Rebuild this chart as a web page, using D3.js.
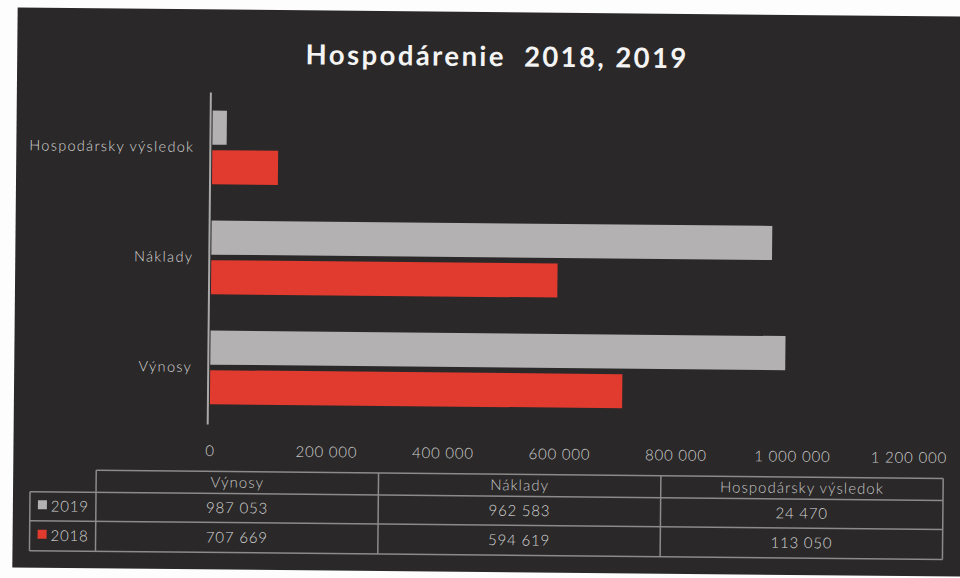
<!DOCTYPE html>
<html>
<head>
<meta charset="utf-8">
<script src="https://cdn.jsdelivr.net/npm/d3@7/dist/d3.min.js"></script>
<style>
  html, body { margin: 0; padding: 0; background: #fdfdfd; }
  svg { display: block; }
</style>
</head>
<body>
<svg id="chart" width="960" height="578"></svg>
<script>
// data
const categories = ["Výnosy", "Náklady", "Hospodársky výsledok"];
const years = ["2019", "2018"];
const values2019 = [987053, 962583, 24470];
const values2018 = [707669, 594619, 113050];
const xTicks = [0, 200000, 400000, 600000, 800000, 1000000, 1200000];
const title = "Hospodárenie  2018, 2019";

const seriesColor = { "2019": "#b4b1b2", "2018": "#e13a2f" };
const seriesValues = { "2019": values2019, "2018": values2018 };

const sk = d3.formatLocale({ decimal: ",", thousands: "\u00a0", grouping: [3], currency: ["", ""] });
const fmt = sk.format(",");

const svg = d3.select("#chart");
const font = "Lato, 'Open Sans', sans-serif";

// the scan is slightly tilted
const g = svg.append("g").attr("transform", "rotate(0.55 480 289)");

g.append("rect")
  .attr("x", 15).attr("y", 12).attr("width", 980).attr("height", 560)
  .attr("fill", "#2a2828");

g.append("text")
  .attr("x", 495).attr("y", 66)
  .attr("text-anchor", "middle")
  .attr("fill", "#f4f4f4")
  .attr("font-family", font)
  .attr("font-weight", 700)
  .attr("font-size", 27.5)
  .attr("letter-spacing", 2.4)
  .style("white-space", "pre")
  .text(title);

const x = d3.scaleLinear().domain([0, 1200000]).range([211, 910]);

const y = d3.scaleBand()
  .domain(categories.slice().reverse())
  .range([95, 425])
  .paddingInner(0.33)
  .paddingOuter(0.165);

const ySub = d3.scaleBand().domain(years).range([0, y.bandwidth()]).paddingInner(0.14);

// bars
const groups = g.append("g").selectAll("g").data(categories).join("g")
  .attr("transform", d => `translate(0,${y(d)})`);

groups.selectAll("rect")
  .data((d, i) => years.map(yr => ({ yr, v: seriesValues[yr][i] })))
  .join("rect")
  .attr("x", x(0))
  .attr("y", d => ySub(d.yr))
  .attr("height", ySub.bandwidth())
  .attr("width", d => x(d.v) - x(0))
  .attr("fill", d => seriesColor[d.yr]);

// y axis
const yAxis = g.append("g")
  .attr("transform", `translate(${x(0) - 2},0)`)
  .call(d3.axisLeft(y).tickSize(0).tickPadding(16));
yAxis.select(".domain").attr("stroke", "#a9a9a9").attr("stroke-width", 2)
  .attr("d", "M0,95V427");
yAxis.selectAll("text")
  .attr("fill", "#d6d6d6")
  .attr("font-family", font)
  .attr("font-weight", 300)
  .attr("font-size", 14.5)
  .attr("letter-spacing", 1.3);

// x axis (labels only)
const xAxis = g.append("g")
  .attr("transform", "translate(0,438)")
  .call(d3.axisBottom(x).tickValues(xTicks).tickFormat(fmt).tickSize(0).tickPadding(10));
xAxis.select(".domain").remove();
xAxis.selectAll("text")
  .attr("fill", "#d0d0d0")
  .attr("font-family", font)
  .attr("font-weight", 300)
  .attr("font-size", 15)
  .attr("letter-spacing", 0.8);

// data table
const col = d3.scaleBand().domain(categories).range([98, 945]);
const rowTop = { header: 474, "2019": 496, "2018": 525 };
const tableBottom = 555;
const legendLeft = 32;
const lineColor = "#8c8a8a";

const table = g.append("g");
const lines = [
  [col.range()[0], rowTop.header, col.range()[1], rowTop.header],
  [legendLeft, rowTop["2019"], col.range()[1], rowTop["2019"]],
  [legendLeft, rowTop["2018"], col.range()[1], rowTop["2018"]],
  [legendLeft, tableBottom, col.range()[1], tableBottom],
  [legendLeft, rowTop["2019"], legendLeft, tableBottom],
  ...categories.map(c => [col(c), rowTop.header, col(c), tableBottom]),
  [col.range()[1], rowTop.header, col.range()[1], tableBottom]
];
table.selectAll("line").data(lines).join("line")
  .attr("x1", d => d[0]).attr("y1", d => d[1])
  .attr("x2", d => d[2]).attr("y2", d => d[3])
  .attr("stroke", lineColor).attr("stroke-width", 1.5);

table.selectAll("text.head").data(categories).join("text")
  .attr("class", "head")
  .attr("x", d => col(d) + col.bandwidth() / 2)
  .attr("y", rowTop.header + 16)
  .attr("text-anchor", "middle")
  .attr("fill", "#c4c4c4")
  .attr("font-family", font)
  .attr("font-weight", 300)
  .attr("font-size", 15)
  .attr("letter-spacing", 1)
  .text(d => d);

years.forEach(yr => {
  const mid = (rowTop[yr] + (yr === "2019" ? rowTop["2018"] : tableBottom)) / 2;
  table.append("rect")
    .attr("x", legendLeft + 8).attr("y", mid - 6)
    .attr("width", 9).attr("height", 9)
    .attr("fill", seriesColor[yr]);
  table.append("text")
    .attr("x", legendLeft + 21).attr("y", mid + 5)
    .attr("fill", "#d6d6d6")
    .attr("font-family", font)
    .attr("font-weight", 300)
    .attr("font-size", 15)
    .attr("letter-spacing", 0.8)
    .text(yr);
  table.selectAll(`text.v${yr}`).data(categories).join("text")
    .attr("class", `v${yr}`)
    .attr("x", d => col(d) + col.bandwidth() / 2)
    .attr("y", mid + 5)
    .attr("text-anchor", "middle")
    .attr("fill", "#d8d8d8")
    .attr("font-family", font)
    .attr("font-weight", 300)
    .attr("font-size", 15)
    .attr("letter-spacing", 0.8)
    .text((d, i) => fmt(seriesValues[yr][i]));
});
</script>
</body>
</html>
